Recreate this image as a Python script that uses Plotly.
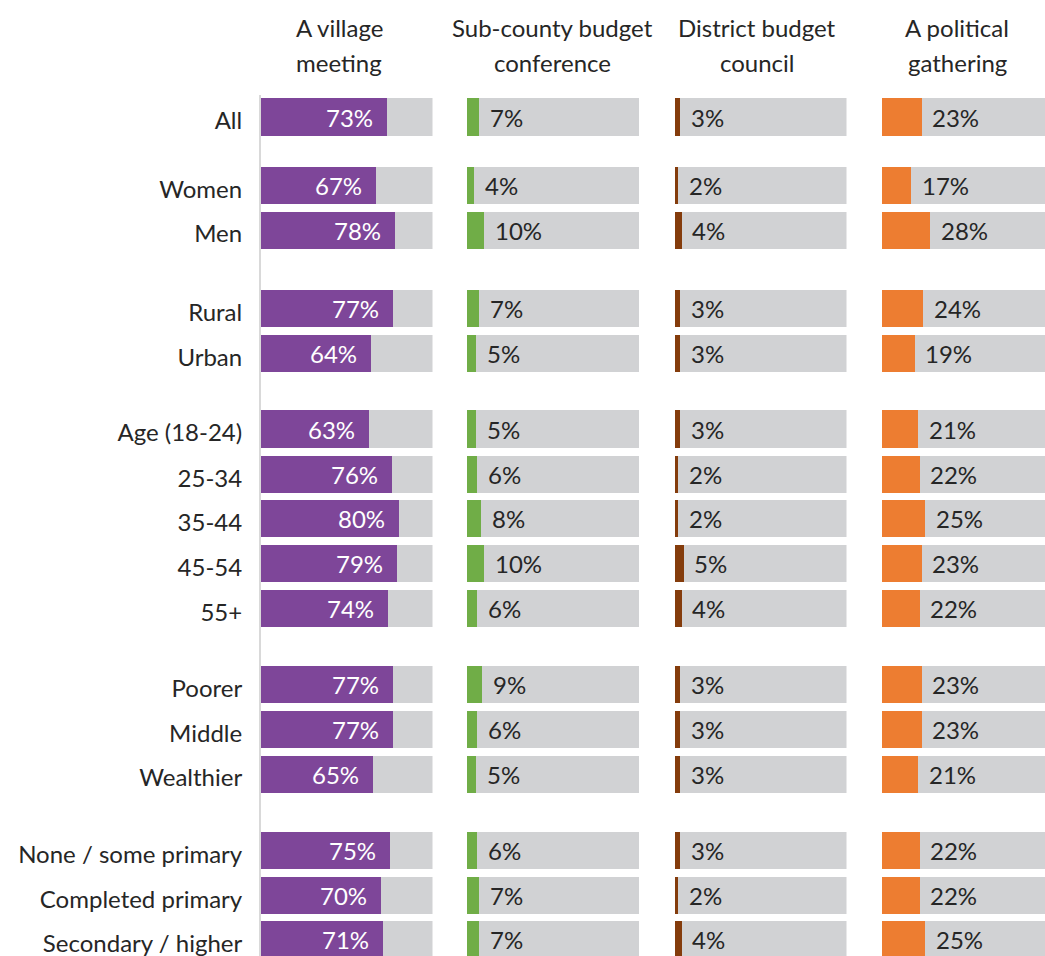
import plotly.graph_objects as go

# Survey breakdown: share who attended each type of meeting
categories = [
    "All",
    "Women", "Men",
    "Rural", "Urban",
    "Age (18-24)", "25-34", "35-44", "45-54", "55+",
    "Poorer", "Middle", "Wealthier",
    "None / some primary", "Completed primary", "Secondary / higher",
]
village_meeting = [73, 67, 78, 77, 64, 63, 76, 80, 79, 74, 77, 77, 65, 75, 70, 71]
subcounty_conference = [7, 4, 10, 7, 5, 5, 6, 8, 10, 6, 9, 6, 5, 6, 7, 7]
district_council = [3, 2, 4, 3, 3, 3, 2, 2, 5, 4, 3, 3, 3, 3, 2, 4]
political_gathering = [23, 17, 28, 24, 19, 21, 22, 25, 23, 22, 23, 23, 21, 22, 22, 25]

panel_titles = [
    ("A village", "meeting"),
    ("Sub-county budget", "conference"),
    ("District budget", "council"),
    ("A political", "gathering"),
]
series = [village_meeting, subcounty_conference, district_council, political_gathering]
colors = ["#7E4699", "#70AD47", "#843C0C", "#ED7D31"]
track_color = "#D1D2D4"
text_dark = "#262626"
FONT = "Lato"

# Vertical slot of each row (groups separated by a blank gap)
row_pos = [0, 1.53, 2.53, 4.28, 5.30, 6.98, 7.99, 8.99, 9.99, 10.99,
           12.70, 13.70, 14.70, 16.41, 17.41, 18.41]

# Page geometry (pixels)
W, H = 1045, 956
left, top = 261, 95
plot_w = W - left
plot_h = H - top
panel_px = [(261, 432.5), (467, 639), (674.5, 846.5), (881.5, 1045)]
full_px = 172.0  # width of a 100% track
title_cx = [339, 552, 757, 957]


def px_to_paper_x(px):
    return (px - left) / plot_w


def px_to_paper_y(py):
    return (H - py) / plot_h


fig = go.Figure()
layout_axes = {}
annotations = []

for i, (vals, col) in enumerate(zip(series, colors)):
    xa = "x" if i == 0 else f"x{i + 1}"
    # grey 100% track
    fig.add_trace(go.Bar(
        x=[100] * len(categories), y=row_pos, orientation="h",
        marker=dict(color=track_color, line=dict(width=0)), width=0.83,
        xaxis=xa, yaxis="y", hoverinfo="skip", showlegend=False,
    ))
    # value bar
    fig.add_trace(go.Bar(
        x=vals, y=row_pos, orientation="h",
        marker=dict(color=col, line=dict(width=0)), width=0.83,
        xaxis=xa, yaxis="y", hoverinfo="skip", showlegend=False,
    ))
    x0, x1 = panel_px[i]
    rng = 100 * (x1 - x0) / full_px
    key = "xaxis" if i == 0 else f"xaxis{i + 1}"
    layout_axes[key] = dict(
        domain=[px_to_paper_x(x0), px_to_paper_x(x1)],
        range=[0, rng], visible=False, fixedrange=True, anchor="y",
    )
    # value labels
    for v, yp in zip(vals, row_pos):
        if i == 0:
            annotations.append(dict(
                x=v, y=yp, xref=xa, yref="y", text=f"{v}%", showarrow=False,
                xanchor="right", yanchor="middle", xshift=-12,
                font=dict(family=FONT, size=24, color="white"),
            ))
        else:
            annotations.append(dict(
                x=v, y=yp, xref=xa, yref="y", text=f"{v}%", showarrow=False,
                xanchor="left", yanchor="middle", xshift=9,
                font=dict(family=FONT, size=24, color=text_dark),
            ))
    # column headings
    for line, py in zip(panel_titles[i], (28, 62)):
        annotations.append(dict(
            x=px_to_paper_x(title_cx[i]), y=px_to_paper_y(py),
            xref="paper", yref="paper", text=line, showarrow=False,
            xanchor="center", yanchor="middle",
            font=dict(family=FONT, size=24, color=text_dark),
        ))

y_top = -22 / 44.7
y_bot = (H - 117) / 44.7

fig.update_layout(
    width=W, height=H,
    margin=dict(l=left, r=0, t=top, b=0, pad=0),
    paper_bgcolor="white", plot_bgcolor="white",
    barmode="overlay", bargap=0,
    yaxis=dict(
        range=[y_bot, y_top], tickvals=row_pos, ticktext=categories,
        ticks="", showgrid=False, zeroline=False,
        showline=True, linecolor="#D9D9D9", linewidth=2,
        ticklabelstandoff=12, ticklabelshift=-4,
        ticklabeloverflow="allow",
        tickfont=dict(family=FONT, size=24, color=text_dark),
        fixedrange=True,
    ),
    annotations=annotations,
    **layout_axes,
)

fig.write_html("out.html")
